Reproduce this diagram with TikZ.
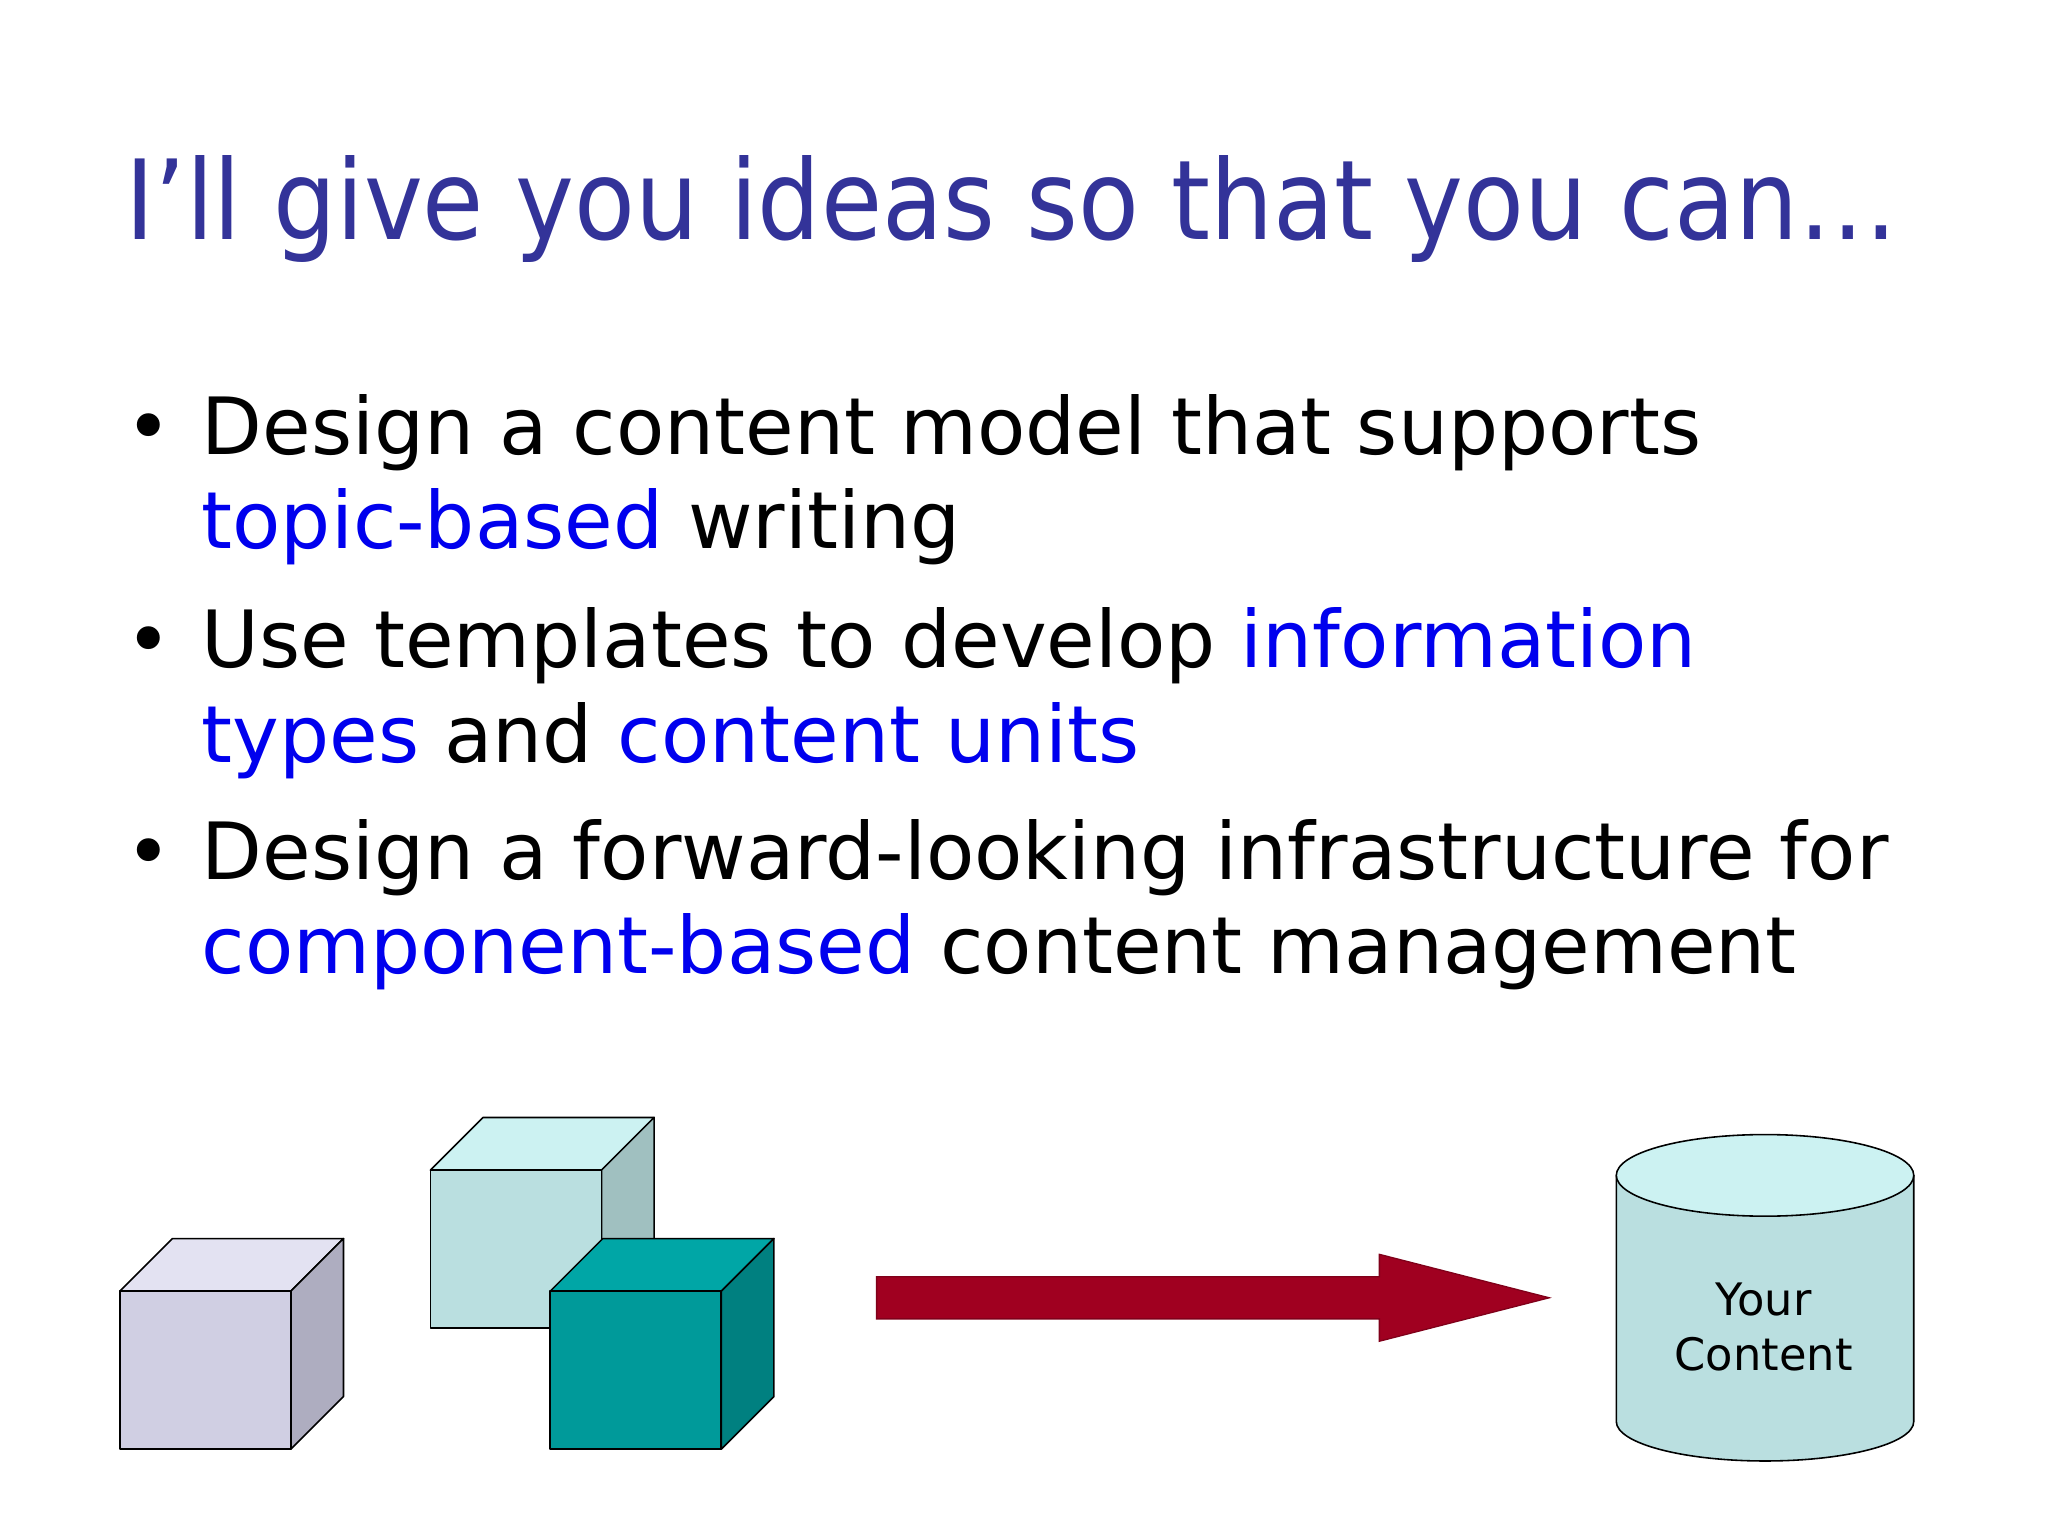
\documentclass[tikz,border=0pt]{standalone}
\usepackage{fontspec}
\setmainfont{DejaVu Sans}
\begin{document}
\begin{tikzpicture}[x=1pt,y=-1pt,
  txt/.style={anchor=base west,inner sep=0pt,font=\fontsize{60}{60}\selectfont},
  edge/.style={draw=black,line width=1.2pt,line join=round}]
\definecolor{ttl}{HTML}{333399}
\definecolor{lnk}{HTML}{0000EE}
\definecolor{arr}{HTML}{A00020}
\definecolor{cA}{HTML}{E3E2F2}
\definecolor{cB}{HTML}{D0CFE3}
\definecolor{cC}{HTML}{AEADC0}
\definecolor{dA}{HTML}{CCF2F2}
\definecolor{dB}{HTML}{BADFE0}
\definecolor{dC}{HTML}{A0C0C0}
\definecolor{eA}{HTML}{00A6A6}
\definecolor{eB}{HTML}{009A9A}
\definecolor{eC}{HTML}{008080}
\useasboundingbox[fill=white] (0,0) rectangle (1556,1167);
\node[anchor=base west,inner sep=0pt,text=ttl,font=\fontsize{84}{84}\selectfont\addfontfeatures{FakeStretch=0.9}] (title) at (95,182) {I’ll give you ideas so that you can…};
\foreach \y in {345,507,668} \node[txt] at (95,\y) {•};
\node[txt] (l1) at (153,345) {Design a content model that supports};
\node[txt] (l2) at (153,417) {\textcolor{lnk}{topic-based} writing};
\node[txt] (l3) at (153,507) {Use templates to develop \textcolor{lnk}{information}};
\node[txt] (l4) at (153,579) {\textcolor{lnk}{types} and \textcolor{lnk}{content units}};
\node[txt] (l5) at (153,668) {Design a forward-looking infrastructure for};
\node[txt] (l6) at (153,740) {\textcolor{lnk}{component-based} content management};
% cubes
\newcommand\mycube[5]{%
 \fill[#3,edge] (#1,#2) -- ++(40,-40) -- ++(130,0) -- ++(-40,40) -- cycle;
 \fill[#5,edge] (#1+130,#2) -- ++(40,-40) -- ++(0,120) -- ++(-40,40) -- cycle;
 \fill[#4,edge] (#1,#2) rectangle ++(130,120);}
\mycube{91}{981}{fill=cA}{fill=cB}{fill=cC}
\mycube{327}{889}{fill=dA}{fill=dB}{fill=dC}
\mycube{418}{981}{fill=eA}{fill=eB}{fill=eC}
% arrow
\fill[arr,draw=arr!80!black,line width=1pt] (666,970) -- (1048,970) -- (1048,953) -- (1177,986) -- (1048,1019) -- (1048,1002) -- (666,1002) -- cycle;
% cylinder
\fill[dB,edge] (1228,893) -- (1228,1080) arc[start angle=180,end angle=0,x radius=113,y radius=30] -- (1454,893) -- cycle;
\fill[dA,edge] (1341,893) ellipse[x radius=113,y radius=31];
\node[align=center,font=\fontsize{34}{42}\selectfont] (cyl) at (1340,1008) {Your\\Content};
\end{tikzpicture}
\end{document}
